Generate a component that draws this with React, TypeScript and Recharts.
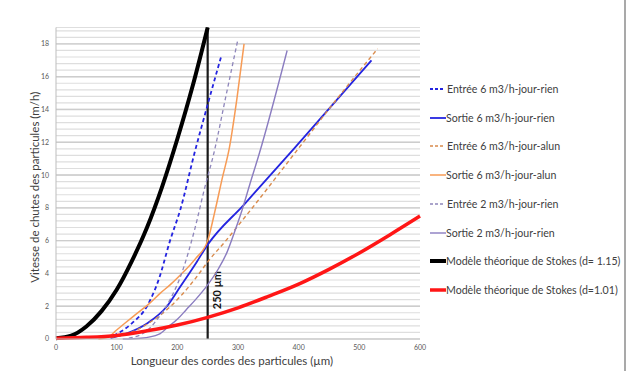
import { LineChart, Line, XAxis, YAxis, CartesianGrid, ReferenceLine } from 'recharts'

// Courbes vitesse de chute vs longueur de corde

const xTicks = [0, 100, 200, 300, 400, 500, 600]

const entree6RienX = [95, 125, 150, 170, 188, 205, 228, 250, 272]
const entree6RienY = [0.2, 0.95, 2.0, 3.7, 6.0, 7.9, 11.3, 14.3, 17.2]

const sortie6RienX = [90, 117, 150, 183, 205, 232, 250, 310, 392, 520]
const sortie6RienY = [0.05, 0.35, 0.95, 2.0, 3.2, 4.7, 5.75, 8.2, 11.6, 17.0]

const entree6AlunX = [90, 120, 150, 180, 205, 230, 250, 280, 315, 395, 460, 530]
const entree6AlunY = [0.1, 0.35, 0.9, 1.7, 2.6, 3.7, 4.7, 6.0, 7.6, 11.4, 14.5, 17.7]

const sortie6AlunX = [70, 85, 100, 128, 155, 172, 188, 205, 230, 250, 262, 274, 286, 298, 310]
const sortie6AlunY = [0.0, 0.1, 0.55, 1.4, 2.2, 2.8, 3.3, 3.9, 4.9, 6.0, 7.8, 9.8, 11.7, 14.6, 18.0]

const entree2RienX = [120, 150, 166, 188, 208, 228, 245, 260, 280, 300]
const entree2RienY = [0.05, 0.5, 1.16, 2.4, 4.1, 6.6, 9.2, 11.3, 14.8, 18.3]

const sortie2RienX = [110, 140, 170, 185, 200, 215, 230, 250, 268, 282, 295, 307, 320, 335, 381]
const sortie2RienY = [0.0, 0.05, 0.3, 0.75, 1.2, 1.8, 2.4, 3.3, 4.3, 5.3, 6.6, 7.9, 9.5, 11.3, 17.6]

const stokes115X = [0, 25, 50, 75, 100, 125, 150, 175, 200, 225, 250]
const stokes115Y = [0.05, 0.2, 0.76, 1.7, 3.0, 4.75, 6.8, 9.3, 12.2, 15.4, 19.0]

const stokes101X = [0, 50, 100, 150, 200, 250, 300, 350, 400, 450, 500, 550, 600]
const stokes101Y = [0.05, 0.1, 0.22, 0.5, 0.85, 1.32, 1.9, 2.6, 3.35, 4.25, 5.25, 6.35, 7.5]

const zip = (xs: number[], ys: number[]) => xs.map((x, i) => ({ x, y: ys[i] }))

// minor gridlines every 0.4, labels on even values
const yTicks = [...Array.from({ length: 48 }, (_, i) => Math.round(i * 4) / 10), 19]
const yMajor = [2, 4, 6, 8, 10, 12, 14, 16, 18]

const FONT = 'Lato, "Open Sans", sans-serif'

interface Serie {
  name: string
  data: { x: number; y: number }[]
  color: string
  width: number
  dash?: string
}

const series: Serie[] = [
  { name: 'Entrée 6 m3/h-jour-rien', data: zip(entree6RienX, entree6RienY), color: '#2424e0', width: 1.8, dash: '4 3' },
  { name: 'Sortie 6 m3/h-jour-rien', data: zip(sortie6RienX, sortie6RienY), color: '#2424e0', width: 1.8 },
  { name: 'Entrée 6 m3/h-jour-alun', data: zip(entree6AlunX, entree6AlunY), color: '#d98b4c', width: 1.4, dash: '4 3' },
  { name: 'Sortie 6 m3/h-jour-alun', data: zip(sortie6AlunX, sortie6AlunY), color: '#f79b55', width: 1.5 },
  { name: 'Entrée 2 m3/h-jour-rien', data: zip(entree2RienX, entree2RienY), color: '#8e86bb', width: 1.3, dash: '4 3' },
  { name: 'Sortie 2 m3/h-jour-rien', data: zip(sortie2RienX, sortie2RienY), color: '#8a7cc0', width: 1.4 },
  { name: 'Modèle théorique de Stokes (d= 1.15)', data: zip(stokes115X, stokes115Y), color: '#000000', width: 4 },
  { name: 'Modèle théorique de Stokes (d=1.01)', data: zip(stokes101X, stokes101Y), color: '#ff1616', width: 3.5 },
]

const yTickFmt = (v: number) => {
  const r = Math.round(v)
  return Math.abs(v - r) < 1e-6 && r % 2 === 0 && r <= 18 ? String(r) : ''
}

function YTitle({ viewBox }: any) {
  const cx = 36
  const cy = viewBox.y + viewBox.height / 2 + 4
  return (
    <text x={cx} y={cy} transform={`rotate(-90, ${cx}, ${cy})`} textAnchor="middle"
      dominantBaseline="middle" fontSize={11.5} fill="#404040" fontFamily={FONT}>
      Vitesse de chutes des particules (m/h)
    </text>
  )
}

function XTitle({ viewBox }: any) {
  const cx = viewBox.x + viewBox.width / 2 - 6
  return (
    <text x={cx} y={viewBox.y + 23} textAnchor="middle" dominantBaseline="middle"
      fontSize={11.5} fill="#404040" fontFamily={FONT}>
      Longueur des cordes des particules (µm)
    </text>
  )
}

function MarkLabel({ viewBox }: any) {
  const cx = viewBox.x + 11
  const cy = viewBox.y + viewBox.height * 0.843
  return (
    <text x={cx} y={cy} transform={`rotate(-90, ${cx}, ${cy})`} textAnchor="middle"
      dominantBaseline="middle" fontSize={11} fontWeight="bold" fill="#111" fontFamily={FONT}>
      250 µm
    </text>
  )
}

export default function App() {
  return (
    <div style={{ position: 'absolute', left: 0, top: 0, width: 627, height: 371, background: '#fff' }}>
      <LineChart width={627} height={371} margin={{ top: 27.5, right: 207, bottom: 0, left: 0 }}>
        <CartesianGrid horizontal vertical={false} stroke="#dedede" strokeWidth={1.2} />
        {yMajor.map((v) => (
          <ReferenceLine key={v} y={v} stroke="#cdcdcd" strokeWidth={1.4} />
        ))}
        <XAxis
          dataKey="x" type="number" domain={[0, 600]} ticks={xTicks} allowDuplicatedCategory={false}
          height={32} tickSize={4} tickMargin={2} tickLine={false}
          axisLine={{ stroke: '#bdbdbd' }}
          tick={{ fontSize: 7, fill: '#595959', fontFamily: FONT }}
          label={<XTitle />}
        />
        <YAxis
          type="number" domain={[0, 19]} ticks={yTicks} interval={0} width={56}
          tickSize={5} tickMargin={2} tickLine={false} tickFormatter={yTickFmt}
          axisLine={{ stroke: '#bdbdbd' }}
          tick={{ fontSize: 7, fill: '#595959', fontFamily: FONT }}
          label={<YTitle />}
        />
        <ReferenceLine x={250} stroke="#1a1a1a" strokeWidth={2.2} label={<MarkLabel />} />
        {series.map((s) => (
          <Line
            key={s.name} data={s.data} dataKey="y" type="monotone"
            stroke={s.color} strokeWidth={s.width} strokeDasharray={s.dash}
            dot={false} activeDot={false} isAnimationActive={false}
          />
        ))}
      </LineChart>

      {/* legend */}
      {series.map((s, i) => (
        <div key={s.name} style={{
          position: 'absolute', left: 430, top: 89 + i * 28.7 - 7, height: 14,
          display: 'flex', alignItems: 'center', fontFamily: FONT, fontSize: 10.6, color: '#404040',
          whiteSpace: 'nowrap',
        }}>
          <svg width={16} height={6} style={{ display: 'block' }}>
            <line x1={0} y1={3} x2={s.dash ? 13 : 16} y2={3} stroke={s.color}
              strokeWidth={s.width} strokeDasharray={s.dash ? '3 2' : undefined} />
          </svg>
          <span style={{ marginLeft: s.dash ? 1 : 0 }}>{s.name}</span>
        </div>
      ))}
      <div style={{ position: 'absolute', left: 624, top: 0, width: 1.5, height: 371, background: '#a9a9a9' }} />
    </div>
  )
}
